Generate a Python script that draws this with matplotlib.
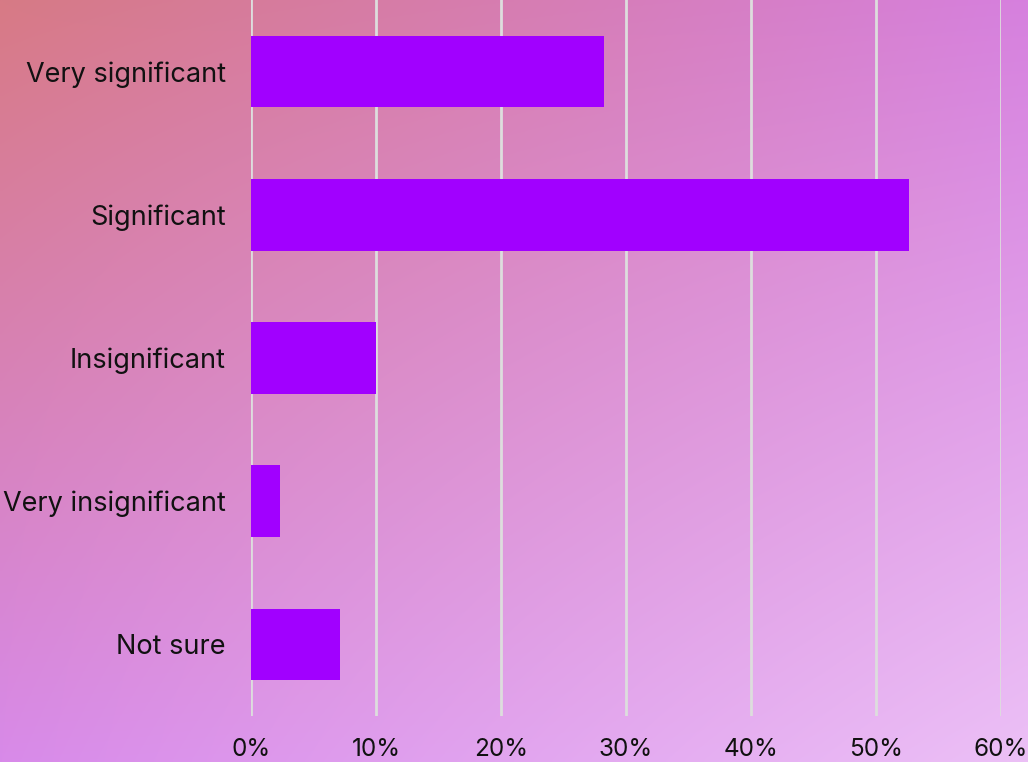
import numpy as np
import matplotlib
matplotlib.use("Agg")
import matplotlib.pyplot as plt
from matplotlib.ticker import PercentFormatter

categories = ["Very significant", "Significant", "Insignificant",
              "Very insignificant", "Not sure"]
shares = [28.2, 52.6, 10.0, 2.3, 7.1]
xticks = [0, 10, 20, 30, 40, 50, 60]

plt.rcParams['font.family'] = ['Inter', 'DejaVu Sans']

W, H = 1028, 762
fig = plt.figure(figsize=(W / 100, H / 100), dpi=100)

# soft four-corner gradient behind everything
tl = np.array([215, 122, 133]) / 255
tr = np.array([214, 128, 222]) / 255
bl = np.array([216, 138, 233]) / 255
br = np.array([236, 192, 246]) / 255
u = np.linspace(0, 1, 256)[None, :, None]
v = np.linspace(0, 1, 256)[:, None, None]
grad = (tl * (1 - u) * (1 - v) + tr * u * (1 - v)
        + bl * (1 - u) * v + br * u * v)
bg = fig.add_axes([0, 0, 1, 1], zorder=-1)
bg.imshow(grad, aspect='auto', extent=[0, 1, 0, 1], interpolation='bilinear')
bg.axis('off')

ax = fig.add_axes([251 / W, 46 / H, 750 / W, 716 / H])
ax.set_facecolor('none')
y = np.arange(len(categories))
ax.barh(y, shares, height=0.5, color='#A100FF', zorder=3)
ax.set_ylim(len(categories) - 0.5, -0.5)
ax.set_xlim(0, 60)
ax.set_xticks(xticks)
ax.xaxis.set_major_formatter(PercentFormatter(decimals=0))
ax.set_yticks(y)
ax.set_yticklabels(categories)
ax.grid(axis='x', color='#DDDDDD', linewidth=2, zorder=0)
for s in ax.spines.values():
    s.set_visible(False)
ax.tick_params(length=0, colors='#111111')
ax.tick_params(axis='y', pad=18, labelsize=19.5)
ax.tick_params(axis='x', pad=16, labelsize=17.5)

fig.savefig("out.png", dpi=100)
